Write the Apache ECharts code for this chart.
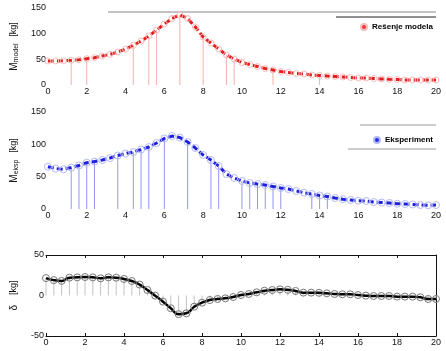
<!DOCTYPE html>
<html>
<head>
<meta charset="utf-8">
<script src="https://cdn.jsdelivr.net/npm/echarts@6.0.0/dist/echarts.min.js"></script>
<style>
  html, body { margin: 0; padding: 0; background: #fff; }
  #chart { width: 446px; height: 351px; }
</style>
</head>
<body>
<div id="chart"></div>
<script>
// x positions of the samples (s)
var xs = [0, 0.4, 0.8, 1.2, 1.6, 2, 2.4, 2.8, 3.2, 3.6, 4, 4.4, 4.8, 5.2, 5.6, 6, 6.4, 6.8, 7.2, 7.6,
  8, 8.4, 8.8, 9.2, 9.6, 10, 10.4, 10.8, 11.2, 11.6, 12, 12.4, 12.8, 13.2, 13.6, 14, 14.4, 14.8, 15.2, 15.6,
  16, 16.4, 16.8, 17.2, 17.6, 18, 18.4, 18.8, 19.2, 19.6, 20]

// Resenje modela [kg]
var modelValues = [46.8, 46.8, 47.3, 48.1, 49.1, 51.2, 53.2, 56.5, 59.8, 64.3, 70.1, 77, 85.7, 95.5, 107, 118.8, 129.6, 136.4, 129.6, 113,
  93.5, 81.8, 70.1, 58.4, 50.7, 43.8, 39.9, 36, 32.1, 29.2, 26.3, 24.4, 22.4, 21.4, 19.5, 18.5, 17.5, 16.6, 15.6, 14.6,
  13.6, 13.6, 12.7, 11.7, 11.1, 10.7, 9.7, 9.7, 9.7, 9.7, 9.7]

// Eksperiment [kg]
var expValues = [65.4, 62.6, 61.4, 64.1, 67.2, 71.6, 73.4, 75.7, 78.8, 82.7, 85.8, 88.1, 92, 95.8, 102, 109, 112.8, 110.5, 103.6, 94.3,
  83.5, 75.7, 66.5, 54, 47.9, 43.3, 40.2, 38.6, 37.1, 34.8, 32.5, 30.9, 27.8, 25.2, 23.2, 20.9, 19.3, 17, 15, 13.9,
  12.8, 12.4, 10.8, 10, 9.3, 8.2, 7.7, 7, 6.2, 5.7, 6.2]

// delta [kg]
var deltaValues = [21.5, 19, 18, 22, 22.4, 22.8, 22.4, 21.2, 22.4, 22, 20.4, 17.9, 13.5, 6.8, -0.2, -7.6, -15.8, -23, -22, -13.8,
  -8.9, -5.6, -4.3, -3.5, -1.9, 0.6, 1.9, 3.9, 5.9, 6.8, 7.6, 7, 5.6, 3.5, 3.5, 3.3, 2.7, 1.9, 1.5, 1.5,
  0.6, -0.2, -0.6, -0.6, -0.6, -1.4, -1.4, -1.4, -2.2, -4.3, -4.3]

// where the vertical stems show up
var modelStemX = [1.2, 2, 4.4, 5.2, 5.6, 6.8, 8, 9.2, 9.6, 11.6, 14]
var expStemX = [1.2, 1.6, 2, 2.4, 3.6, 4.4, 4.8, 5.2, 6, 7.2, 8.4, 8.8, 10, 10.4, 10.8, 11.2, 11.6, 12, 13.6, 14, 14.4]

var seriesNames = ['Rešenje modela', 'Eksperiment', 'δ']

function pairs (vals) {
  return xs.map(function (x, i) { return [x, vals[i]] })
}
function stems (stemX, vals) {
  return stemX.map(function (x) { return [x, vals[xs.indexOf(x)]] })
}

var font = 'Liberation Sans, Arial, sans-serif'

function xAxisBase (grid) {
  return {
    type: 'value', gridIndex: grid, min: 0, max: 20, interval: 2,
    axisLine: { show: false }, axisTick: { show: false }, splitLine: { show: false },
    axisLabel: { fontSize: 9, color: '#111', margin: 2, fontFamily: font }
  }
}
function yAxisBase (grid, min, max, name) {
  return {
    type: 'value', gridIndex: grid, min: min, max: max, interval: 50,
    axisLine: { show: false }, axisTick: { show: false }, splitLine: { show: false },
    axisLabel: { fontSize: 9, color: '#111', margin: 2, fontFamily: font },
    name: name, nameLocation: 'middle', nameRotate: 90, nameGap: 26,
    nameTextStyle: {
      fontFamily: font, color: '#111',
      rich: {
        m: { fontSize: 10, fontFamily: font, color: '#111' },
        s: { fontSize: 7, fontFamily: font, color: '#111', verticalAlign: 'bottom', padding: [4, 0, 0, 0] },
        k: { fontSize: 9, fontFamily: font, color: '#111' }
      }
    }
  }
}

var chart = echarts.init(document.getElementById('chart'))

var xAxes = [xAxisBase(0), xAxisBase(1), xAxisBase(2), xAxisBase(2)]
xAxes[2].axisLine = { show: true, onZero: false, lineStyle: { color: '#111', width: 1 } }
xAxes[2].axisTick = { show: true, inside: true, length: 3, lineStyle: { color: '#111' } }
// top edge of the last panel
xAxes[3].position = 'top'
xAxes[3].axisLabel = { show: false }
xAxes[3].axisLine = { show: true, onZero: false, lineStyle: { color: '#111', width: 1 } }
xAxes[3].axisTick = { show: true, inside: true, length: 3, lineStyle: { color: '#111' } }

var yRight = {
  type: 'value', gridIndex: 2, min: -50, max: 50, interval: 50, position: 'right',
  axisLine: { show: true, onZero: false, lineStyle: { color: '#111', width: 1 } },
  axisTick: { show: false }, axisLabel: { show: false }, splitLine: { show: false }
}

chart.setOption({
  animation: false,
  backgroundColor: '#fff',
  grid: [
    { left: 43, right: 10, top: 8, height: 77 },
    { left: 43, right: 10, top: 112, height: 97 },
    { left: 43, right: 10, top: 255, height: 81 }
  ],
  xAxis: xAxes,
  yAxis: [
    yAxisBase(0, 0, 150, '{m|M}{s|model}  {k|[kg]}'),
    yAxisBase(1, 0, 150, '{m|M}{s|eksp}  {k|[kg]}'),
    yAxisBase(2, -50, 50, '{m|δ}   {k|[kg]}'),
    yRight
  ],
  legend: [
    {
      left: 355, top: 18, itemWidth: 6, itemHeight: 6, itemGap: 4,
      textStyle: { fontSize: 8, fontWeight: 'bold', color: '#000', fontFamily: font },
      data: [{ name: seriesNames[0], icon: 'circle', itemStyle: { color: '#f03a3a' } }]
    },
    {
      left: 368, top: 131, itemWidth: 6, itemHeight: 6, itemGap: 4,
      textStyle: { fontSize: 8, fontWeight: 'bold', color: '#000', fontFamily: font },
      data: [{ name: seriesNames[1], icon: 'circle', itemStyle: { color: '#2a2ae8' } }]
    }
  ],
  graphic: [
    { type: 'line', shape: { x1: 108, y1: 12, x2: 436, y2: 12 }, style: { stroke: '#888', lineWidth: 1 } },
    { type: 'line', shape: { x1: 336, y1: 17, x2: 436, y2: 17 }, style: { stroke: '#222', lineWidth: 1 } },
    { type: 'line', shape: { x1: 360, y1: 125, x2: 436, y2: 125 }, style: { stroke: '#999', lineWidth: 1 } },
    { type: 'line', shape: { x1: 348, y1: 149, x2: 436, y2: 149 }, style: { stroke: '#999', lineWidth: 1 } }
  ],
  series: [
    {
      type: 'bar', xAxisIndex: 0, yAxisIndex: 0, barWidth: 1, silent: true,
      itemStyle: { color: 'rgba(235, 80, 80, 0.45)' },
      data: stems(modelStemX, modelValues)
    },
    {
      name: seriesNames[0], type: 'line', xAxisIndex: 0, yAxisIndex: 0,
      data: pairs(modelValues),
      showAllSymbol: true, symbol: 'circle', symbolSize: 6,
      itemStyle: { color: 'rgba(255,255,255,0)', borderColor: '#f7bcbc', borderWidth: 1 },
      lineStyle: { color: '#e51c1c', width: 3, type: [6, 3] }
    },
    {
      type: 'bar', xAxisIndex: 1, yAxisIndex: 1, barWidth: 1, silent: true,
      itemStyle: { color: 'rgba(60, 60, 230, 0.55)' },
      data: stems(expStemX, expValues)
    },
    {
      name: seriesNames[1], type: 'line', xAxisIndex: 1, yAxisIndex: 1,
      data: pairs(expValues),
      showAllSymbol: true, symbol: 'circle', symbolSize: 7,
      itemStyle: { color: 'rgba(255,255,255,0)', borderColor: '#b3baf4', borderWidth: 1 },
      lineStyle: { color: '#1f1fe0', width: 3, type: [6, 3] }
    },
    {
      type: 'bar', xAxisIndex: 2, yAxisIndex: 2, barWidth: 1, silent: true,
      itemStyle: { color: '#c4c4c4' },
      data: pairs(deltaValues)
    },
    {
      name: seriesNames[2], type: 'line', xAxisIndex: 2, yAxisIndex: 2,
      data: pairs(deltaValues), smooth: true,
      showAllSymbol: true, symbol: 'circle', symbolSize: 7,
      itemStyle: { color: 'rgba(255,255,255,0)', borderColor: '#777', borderWidth: 1 },
      lineStyle: { color: '#000', width: 2.5 }
    }
  ]
})
</script>
</body>
</html>
